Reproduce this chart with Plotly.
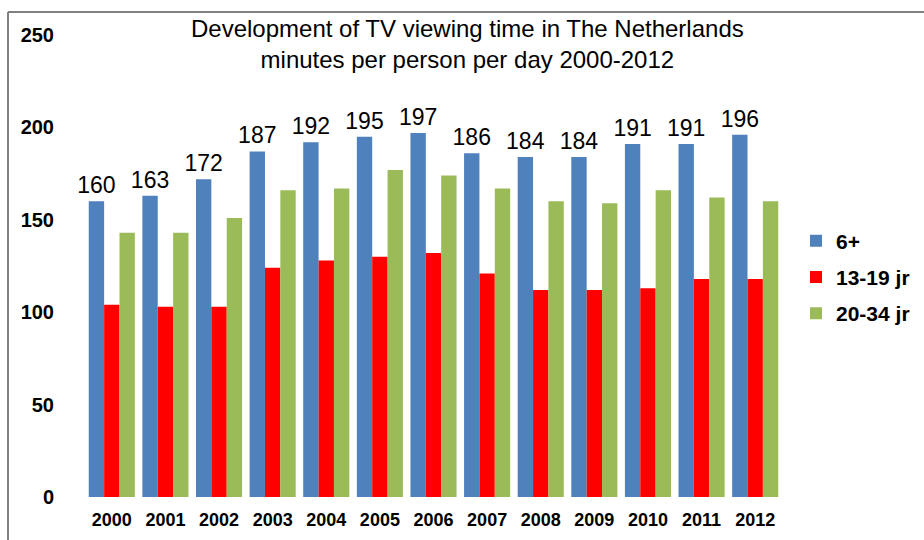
import plotly.graph_objects as go

years = ["2000", "2001", "2002", "2003", "2004", "2005", "2006",
         "2007", "2008", "2009", "2010", "2011", "2012"]
all_6plus = [160, 163, 172, 187, 192, 195, 197, 186, 184, 184, 191, 191, 196]
teens_13_19 = [104, 103, 103, 124, 128, 130, 132, 121, 112, 112, 113, 118, 118]
young_20_34 = [143, 143, 151, 166, 167, 177, 174, 167, 160, 159, 166, 162, 160]
series_names = ["6+", "13-19 jr", "20-34 jr"]
y_ticks = [0, 50, 100, 150, 200, 250]
title_text = ("Development of TV viewing time in The Netherlands<br>"
              "minutes per person per day 2000-2012")

FONT = "Liberation Sans, Arial, sans-serif"
W, H = 924, 540
ML, MR, MT, MB = 85, 142, 35, 43
PW, PH = W - ML - MR, H - MT - MB

fig = go.Figure()
fig.add_trace(go.Bar(
    x=years, y=all_6plus, name=series_names[0], legendgroup="a",
    marker=dict(color="#4F81BD", line=dict(width=0)),
    text=[str(v) for v in all_6plus], textposition="outside",
    constraintext="none",
    textfont=dict(family=FONT, size=23, color="#000000"),
    cliponaxis=False,
))
fig.add_trace(go.Bar(
    x=years, y=teens_13_19, name=series_names[1], legendgroup="b",
    marker=dict(color="#FF0000", line=dict(width=0)),
))
fig.add_trace(go.Bar(
    x=years, y=young_20_34, name=series_names[2], legendgroup="c",
    marker=dict(color="#9BBB59", line=dict(width=0)),
))

fig.update_layout(
    width=W, height=H,
    paper_bgcolor="white", plot_bgcolor="white",
    barmode="group", bargap=0.14, bargroupgap=0,
    margin=dict(l=ML, r=MR, t=MT, b=MB, autoexpand=False),
    font=dict(family=FONT, color="#000000"),
    showlegend=True,
    legend=dict(x=(800 - 4 - ML) / PW, xanchor="left",
                y=(H - MB - 277) / PH, yanchor="middle",
                traceorder="grouped", tracegroupgap=6,
                font=dict(family=FONT, size=21, color="#000000", weight="bold"),
                bgcolor="rgba(0,0,0,0)"),
    annotations=[dict(
        text=title_text, xref="paper", yref="paper",
        x=(468 - ML) / PW, y=(H - MB - 44) / PH,
        xanchor="center", yanchor="middle", showarrow=False,
        font=dict(family=FONT, size=24, color="#000000"),
    )],
    shapes=[
        dict(type="line", xref="paper", yref="paper",
             x0=(8 - ML) / PW, x1=(W + 10 - ML) / PW,
             y0=(H - MB - 12) / PH, y1=(H - MB - 12) / PH,
             line=dict(color="#808080", width=2)),
        dict(type="line", xref="paper", yref="paper",
             x0=(8 - ML) / PW, x1=(8 - ML) / PW,
             y0=(H - MB - 12) / PH, y1=(-10 - MB) / PH,
             line=dict(color="#808080", width=2)),
    ],
)
fig.update_xaxes(
    showgrid=False, showline=False, zeroline=False, ticks="",
    ticklabelstandoff=10,
    tickfont=dict(family=FONT, size=18, color="#000000", weight="bold"),
)
fig.update_yaxes(
    range=[0, 250], tickvals=y_ticks, showgrid=False, showline=False,
    zeroline=False, ticks="", ticklabelstandoff=30,
    tickfont=dict(family=FONT, size=20, color="#000000", weight="bold"),
)

fig.write_html("out.html", config={"displayModeBar": False},
               post_script="document.body.style.margin='0';document.body.style.overflow='hidden';")
